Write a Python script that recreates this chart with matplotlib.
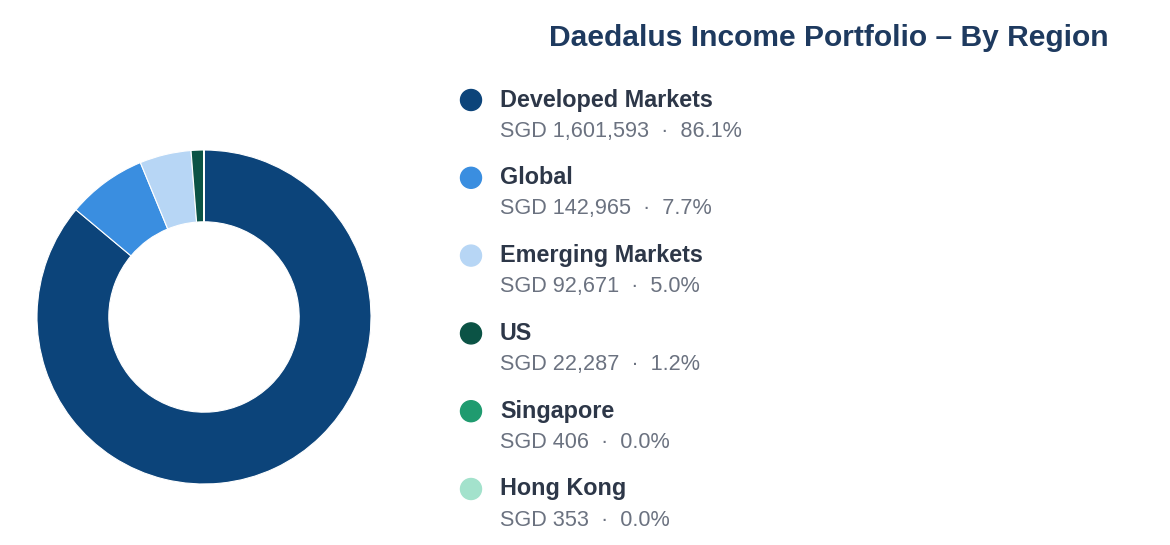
import matplotlib
matplotlib.use('Agg')
import matplotlib.pyplot as plt
from matplotlib.patches import Ellipse

# data
regions = ['Developed Markets', 'Global', 'Emerging Markets', 'US', 'Singapore', 'Hong Kong']
values = [1601593, 142965, 92671, 22287, 406, 353]
colors = ['#0c447a', '#3a8ee0', '#b7d6f5', '#0b5345', '#1f9b6f', '#a3e2cc']
title = 'Daedalus Income Portfolio – By Region'

W, H = 1170, 545
plt.rcParams['font.family'] = ['Liberation Sans', 'DejaVu Sans']

fig = plt.figure(figsize=(W / 100, H / 100), dpi=100)


def fx(px):
    return px / W


def fy(py):
    return 1 - py / H


# donut: center (204, 317), outer radius 167 px
cx, cy, r = 204, 317, 167
ax = fig.add_axes([fx(cx - r), fy(cy + r), 2 * r / W, 2 * r / H])
ax.pie(values, colors=colors, startangle=90, counterclock=False, radius=1,
       wedgeprops=dict(width=0.43, edgecolor='white', linewidth=0.8))
ax.set_xlim(-1, 1)
ax.set_ylim(-1, 1)
ax.set_aspect('equal')
ax.axis('off')

fig.text(fx(829), fy(38), title, ha='center', va='center', fontsize=21.6,
         fontweight='bold', color='#1e3a5f')

total = sum(values)
y0, step = 100, 77.8
for i, (name, val, col) in enumerate(zip(regions, values, colors)):
    y = y0 + i * step
    fig.patches.append(Ellipse((fx(471), fy(y)), 21 / W, 21 / H, color=col,
                               transform=fig.transFigure, figure=fig))
    fig.text(fx(500), fy(y), name, ha='left', va='center', fontsize=16.8,
             fontweight='bold', color='#2d3748')
    pct = val / total * 100
    fig.text(fx(500), fy(y + 31), f'SGD {val:,}  ·  {pct:.1f}%', ha='left',
             va='center', fontsize=15.6, color='#6b7280')

fig.savefig('out.png', dpi=100)
